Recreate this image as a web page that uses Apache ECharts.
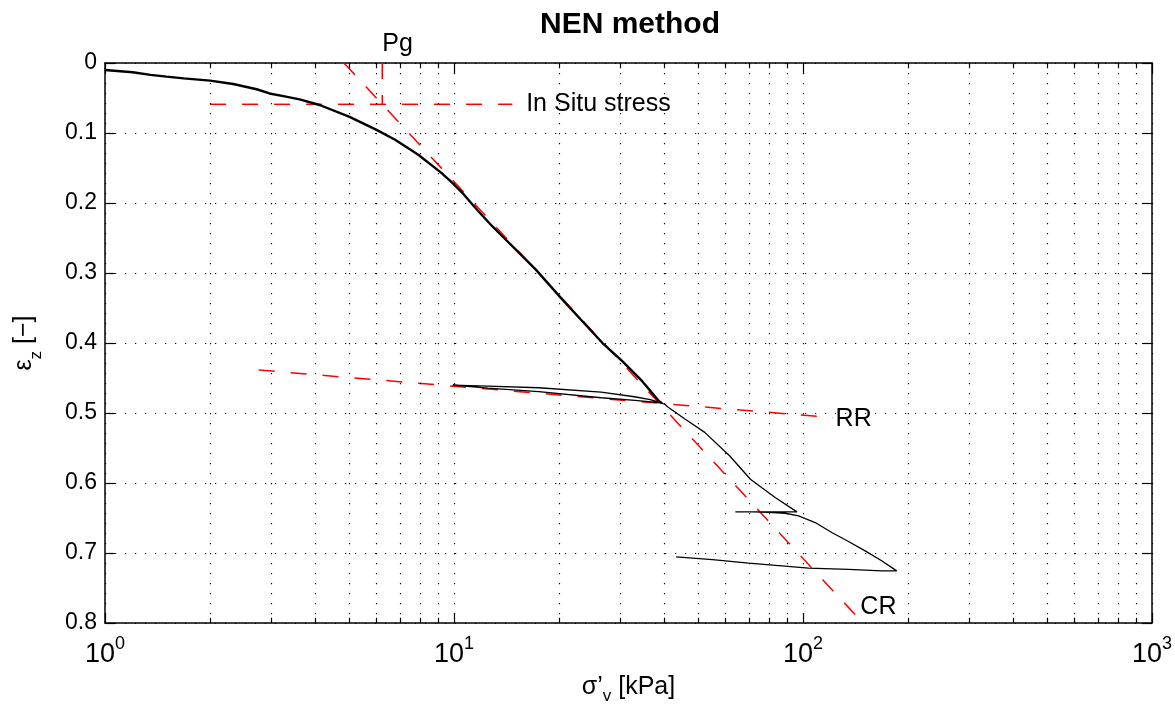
<!DOCTYPE html>
<html>
<head>
<meta charset="utf-8">
<script src="https://cdn.jsdelivr.net/npm/echarts@6/dist/echarts.min.js"></script>
<style>
  html, body { margin: 0; padding: 0; background: #fff; }
  #chart { width: 1175px; height: 710px; }
</style>
</head>
<body>
<div id="chart"></div>
<script>
// Oedometer test: virgin loading branch (sigma'_v in kPa, strain eps_z)
const sigmaLoad = [1.0, 1.2, 1.35, 1.5, 1.68, 2.0, 2.33, 2.72, 2.96, 3.3, 3.61, 4.12, 5.02, 6.0, 6.8, 7.9, 9.2,
  9.91, 10.58, 11.31, 12.07, 12.89, 14.08, 15.04, 17.16, 18.73, 20.45, 23.33, 26.6, 30.35, 34.62, 38.64, 39.5];
const epsLoad = [0.010, 0.0133, 0.017, 0.0195, 0.022, 0.0252, 0.030, 0.0375, 0.0435, 0.048, 0.052, 0.060, 0.077, 0.0956, 0.11, 0.131, 0.157,
  0.1716, 0.1858, 0.2025, 0.2182, 0.2335, 0.2525, 0.2667, 0.2952, 0.3166, 0.338, 0.3689, 0.3997, 0.426, 0.4545, 0.483, 0.486];

// Unload / reload cycles after the first loading stage (in test order)
const sigmaCycle = [39.5, 36.5, 32.9, 26.4, 17.5, 12.5, 9.92,
  9.92, 12.5, 17.5, 26.4, 33.0, 38.8, 40.2,
  40.9, 46.0, 52.3, 61.7, 70.7, 83.2, 96.1,
  80.0, 64.0,
  72.0, 79.7, 88.9, 97.1, 108.4, 120.9, 135.0, 150.7, 168.0, 185.6,
  168.2, 135.0, 103.8, 69.9, 55.0, 43.3];
const epsCycle = [0.486, 0.481, 0.4768, 0.4702, 0.4639, 0.4615, 0.4602,
  0.4612, 0.4645, 0.4696, 0.4782, 0.482, 0.4853, 0.4875,
  0.491, 0.509, 0.5277, 0.5615, 0.5947, 0.6208, 0.6413,
  0.6413, 0.6413,
  0.6413, 0.6418, 0.6432, 0.647, 0.6565, 0.6707, 0.6835, 0.697, 0.711, 0.7255,
  0.7255, 0.7235, 0.7216, 0.7145, 0.7095, 0.7055];

// Construction lines of the NEN method: [stress, strain] end points
const lineCR = [[4.84, 0.0], [141.4, 0.7886]];
const lineRR = [[2.757, 0.4386], [122.0, 0.5067]];
const lineInSitu = [[2.0, 0.059], [14.7, 0.059]];
const linePg = [[6.23, 0.0], [6.23, 0.059]];

// Annotation texts and their anchor points
const noteText = ['Pg', 'In Situ stress', 'RR', 'CR'];
const noteX = [6.23, 16.1, 124, 146];
const noteY = [-0.027, 0.059, 0.509, 0.777];

// Axis ranges and tick labels
const xMin = 1, xMax = 1000;
const yMin = 0, yMax = 0.8, yStep = 0.1;
const xDecadeExp = { 1: '0', 10: '1', 100: '2', 1000: '3' };

const FONT = 'Liberation Sans, Arial, Helvetica, sans-serif';

// minor log positions 2..9 within each decade
const minorX = [];
for (let d = xMin; d < xMax; d *= 10) {
  for (let k = 2; k <= 9; k++) minorX.push(d * k);
}

const zip = (xs, ys) => xs.map((x, i) => [x, ys[i]]);

const dotted = { color: '#000', width: 1.2, type: [1.2, 8.8] };
const redDash = { color: '#ff0000', width: 1.5, type: [16, 16] };
const tickLen = 0.0075;

const chart = echarts.init(document.getElementById('chart'), null, { renderer: 'canvas' });

chart.setOption({
  animation: false,
  backgroundColor: '#fff',
  textStyle: { fontFamily: FONT },
  title: {
    text: 'NEN method',
    left: 630,
    textAlign: 'center',
    top: 10,
    padding: 0,
    textStyle: { fontFamily: FONT, fontSize: 30, fontWeight: 'bold', color: '#000' }
  },
  grid: { left: 105, right: 21, top: 63, bottom: 86, containLabel: false },
  xAxis: [{
    type: 'log',
    logBase: 10,
    min: xMin,
    max: xMax,
    position: 'bottom',
    name: '{a|σ’}{s|v}{a| [kPa]}',
    nameLocation: 'middle',
    nameGap: 46,
    nameTextStyle: {
      rich: {
        a: { fontFamily: FONT, fontSize: 25, color: '#000', lineHeight: 36 },
        s: { fontFamily: FONT, fontSize: 17, color: '#000', lineHeight: 15, verticalAlign: 'bottom' }
      }
    },
    axisLine: { show: true, onZero: false, lineStyle: { color: '#000', width: 1.5 } },
    axisTick: { show: true, inside: true, length: 10, lineStyle: { color: '#000', width: 1.2 } },
    axisLabel: {
      margin: 12,
      formatter: v => '{b|10}{e|' + (xDecadeExp[Math.round(v)] || '') + '}',
      rich: {
        b: { fontFamily: FONT, fontSize: 27, color: '#000', lineHeight: 40 },
        e: { fontFamily: FONT, fontSize: 18, color: '#000', lineHeight: 12, verticalAlign: 'top' }
      }
    },
    splitLine: { show: true, lineStyle: dotted }
  }, {
    type: 'log',
    logBase: 10,
    min: xMin,
    max: xMax,
    position: 'top',
    axisLine: { show: true, onZero: false, lineStyle: { color: '#000', width: 1.5 } },
    axisTick: { show: true, inside: true, length: 10, lineStyle: { color: '#000', width: 1.2 } },
    axisLabel: { show: false },
    splitLine: { show: false }
  }],
  yAxis: [{
    type: 'value',
    inverse: true,
    min: yMin,
    max: yMax,
    interval: yStep,
    position: 'left',
    name: '{e|ε}{s|z}{e| [−]}',
    nameLocation: 'middle',
    nameRotate: 90,
    nameGap: 60,
    nameTextStyle: {
      rich: {
        e: { fontFamily: FONT, fontSize: 25, color: '#000', lineHeight: 42 },
        s: { fontFamily: FONT, fontSize: 17, color: '#000', lineHeight: 15, verticalAlign: 'bottom' }
      }
    },
    axisLine: { show: true, onZero: false, lineStyle: { color: '#000', width: 1.5 } },
    axisTick: { show: true, inside: true, length: 10, lineStyle: { color: '#000', width: 1.2 } },
    axisLabel: {
      margin: 8,
      fontFamily: FONT,
      fontSize: 23,
      color: '#000',
      formatter: v => String(+v.toFixed(1))
    },
    splitLine: { show: true, lineStyle: dotted }
  }, {
    type: 'value',
    inverse: true,
    min: yMin,
    max: yMax,
    interval: yStep,
    position: 'right',
    axisLine: { show: true, onZero: false, lineStyle: { color: '#000', width: 1.5 } },
    axisTick: { show: true, inside: true, length: 10, lineStyle: { color: '#000', width: 1.2 } },
    axisLabel: { show: false },
    splitLine: { show: false }
  }],
  series: [
    {
      // minor log grid lines and minor ticks on bottom and top edges
      name: 'minor grid',
      type: 'line',
      data: [],
      silent: true,
      markLine: {
        silent: true,
        symbol: 'none',
        label: { show: false },
        emphasis: { disabled: true },
        data: [].concat(
          minorX.map(x => [{ coord: [x, yMin], lineStyle: dotted }, { coord: [x, yMax] }]),
          minorX.map(x => [{ coord: [x, yMax], lineStyle: { color: '#000', width: 1.2, type: 'solid' } }, { coord: [x, yMax - tickLen] }]),
          minorX.map(x => [{ coord: [x, yMin], lineStyle: { color: '#000', width: 1.2, type: 'solid' } }, { coord: [x, yMin + tickLen] }])
        )
      }
    },
    {
      name: 'CR',
      type: 'line',
      data: lineCR,
      symbol: 'none',
      lineStyle: redDash,
      z: 3
    },
    {
      name: 'RR',
      type: 'line',
      data: lineRR,
      symbol: 'none',
      lineStyle: redDash,
      z: 3
    },
    {
      name: 'In Situ stress',
      type: 'line',
      data: lineInSitu,
      symbol: 'none',
      lineStyle: redDash,
      z: 3
    },
    {
      name: 'Pg',
      type: 'line',
      data: linePg,
      symbol: 'none',
      lineStyle: redDash,
      z: 3
    },
    {
      name: 'loading',
      type: 'line',
      data: zip(sigmaLoad, epsLoad),
      symbol: 'none',
      lineStyle: { color: '#000', width: 2.4 },
      z: 4
    },
    {
      name: 'cycles',
      type: 'line',
      data: zip(sigmaCycle, epsCycle),
      symbol: 'none',
      lineStyle: { color: '#000', width: 1.3 },
      z: 4
    },
    {
      name: 'notes',
      type: 'scatter',
      clip: false,
      symbolSize: 0,
      silent: true,
      itemStyle: { opacity: 1, color: '#000' },
      data: noteText.map((t, i) => ({ value: [noteX[i], noteY[i]], name: t })),
      label: {
        show: true,
        position: 'right',
        distance: 0,
        formatter: p => p.name,
        fontFamily: FONT,
        fontSize: 25,
        color: '#000',
        opacity: 1
      },
      z: 5
    }
  ]
});
</script>
</body>
</html>
